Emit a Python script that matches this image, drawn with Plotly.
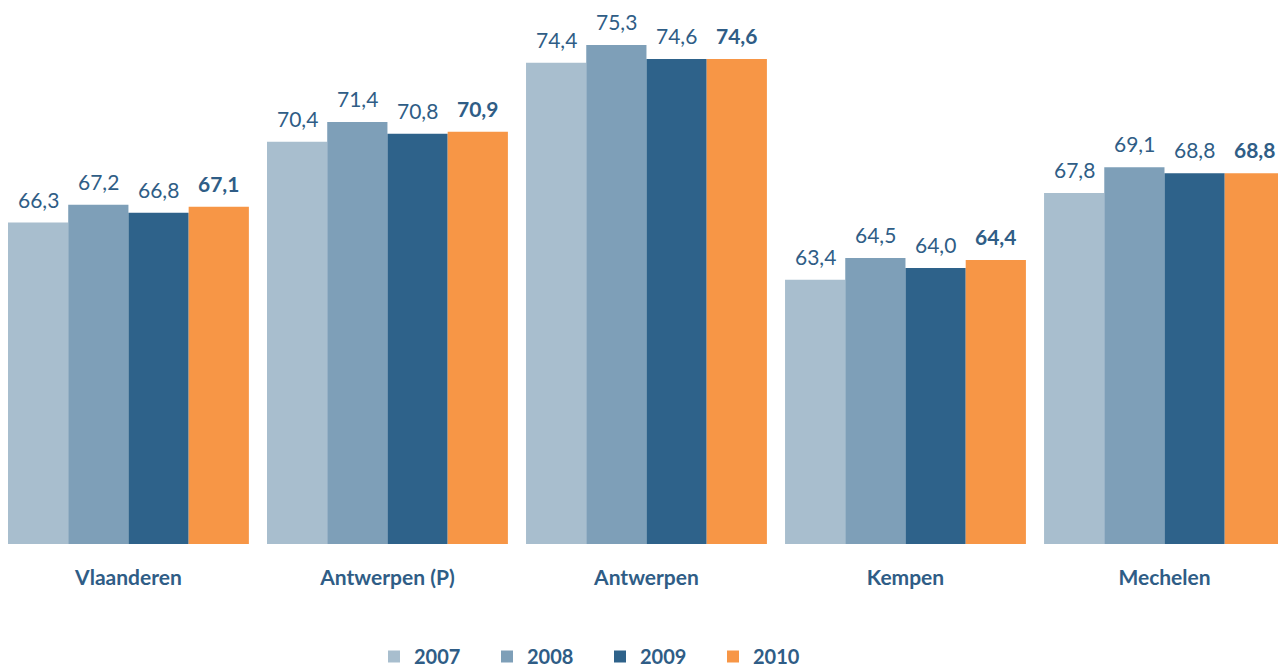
import plotly.graph_objects as go

categories = ["Vlaanderen", "Antwerpen (P)", "Antwerpen", "Kempen", "Mechelen"]
years = ["2007", "2008", "2009", "2010"]
v2007 = [66.3, 70.4, 74.4, 63.4, 67.8]
v2008 = [67.2, 71.4, 75.3, 64.5, 69.1]
v2009 = [66.8, 70.8, 74.6, 64.0, 68.8]
v2010 = [67.1, 70.9, 74.6, 64.4, 68.8]
series = [v2007, v2008, v2009, v2010]
colors = ["#A8BECE", "#7E9FB8", "#2E628A", "#F79646"]

FONT = "Lato"
LABEL_COLOR = "#2F5D86"
BARGAP = 0.07

fig = go.Figure()
for name, vals, col in zip(years, series, colors):
    fig.add_trace(go.Bar(
        x=categories, y=vals, name=name,
        marker=dict(color=col, line=dict(width=0)),
    ))

nser = len(series)
w = (1 - BARGAP) / nser
annotations = []
for j, vals in enumerate(series):
    bold = (j == nser - 1)
    for i, v in enumerate(vals):
        txt = f"{v:.1f}".replace(".", ",")
        if bold:
            txt = f"<b>{txt}</b>"
        annotations.append(dict(
            x=i + (j - (nser - 1) / 2) * w, y=v, xref="x", yref="y",
            text=txt, showarrow=False, yanchor="bottom", yshift=9,
            font=dict(family=FONT, size=21, color=LABEL_COLOR),
        ))

fig.update_layout(
    width=1286, height=668,
    margin=dict(l=0, r=0, t=0, b=131),
    barmode="group", bargap=BARGAP, bargroupgap=0,
    plot_bgcolor="white", paper_bgcolor="white",
    font=dict(family=FONT, color=LABEL_COLOR),
    annotations=annotations,
    showlegend=True,
    legend=dict(
        orientation="h", x=0.2846, xanchor="left", y=-0.21, yanchor="middle",
        font=dict(family=FONT, size=20, color=LABEL_COLOR, weight="bold"),
        entrywidth=68, entrywidthmode="pixels", traceorder="normal",
    ),
    xaxis=dict(
        type="category", range=[-0.465, 4.5], showgrid=False, showline=False,
        zeroline=False, ticks="", ticklabelstandoff=19,
        tickfont=dict(family=FONT, size=21, color=LABEL_COLOR, weight="bold"),
    ),
    yaxis=dict(range=[50, 77.18], visible=False, showgrid=False, zeroline=False),
)

fig.write_html("out.html")
